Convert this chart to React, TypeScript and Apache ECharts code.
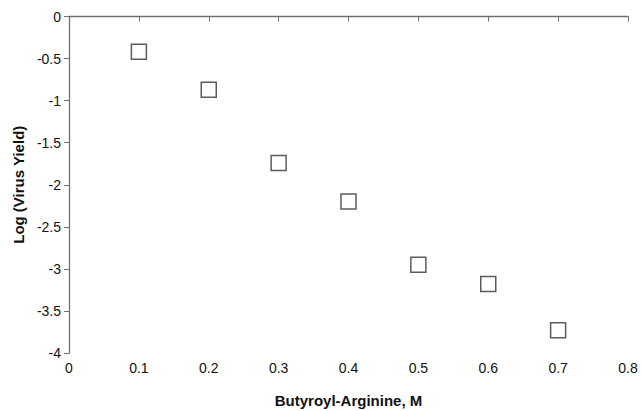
import React, { useEffect, useRef } from "react";
import * as echarts from "echarts";

const concentration = [0.1, 0.2, 0.3, 0.4, 0.5, 0.6, 0.7];
const logYield = [-0.42, -0.87, -1.74, -2.2, -2.95, -3.18, -3.73];

export default function App() {
  const ref = useRef<HTMLDivElement>(null);
  useEffect(() => {
    if (!ref.current) return;
    const chart = echarts.init(ref.current, undefined, { renderer: "svg" });
    const font = "'Liberation Sans', Arial, sans-serif";
    chart.setOption({
      animation: false,
      backgroundColor: "#fff",
      grid: { left: 69, right: 15, top: 16.5, bottom: 58, containLabel: false, outerBoundsMode: "none" },
      xAxis: {
        type: "value",
        min: 0,
        max: 0.8,
        interval: 0.1,
        name: "Butyroyl-Arginine, M",
        nameLocation: "middle",
        nameGap: 40,
        nameTextStyle: { fontFamily: font, fontWeight: "bold", fontSize: 15, color: "#111" },
        axisLine: { lineStyle: { color: "#707070", width: 1.3 } },
        axisTick: { show: true, inside: false, length: 5, lineStyle: { color: "#707070" } },
        axisLabel: { fontFamily: font, fontSize: 14, color: "#111", margin: 8, formatter: (v: number) => String(Math.round(v * 10) / 10) },
        splitLine: { show: false },
      },
      yAxis: {
        type: "value",
        min: -4,
        max: 0,
        interval: 0.5,
        name: "Log (Virus Yield)",
        nameLocation: "middle",
        nameGap: 40,
        nameTextStyle: { fontFamily: font, fontWeight: "bold", fontSize: 15, color: "#111" },
        axisLine: { show: true, lineStyle: { color: "#707070", width: 1.3 } },
        axisTick: { show: true, inside: false, length: 5, lineStyle: { color: "#707070" } },
        axisLabel: { fontFamily: font, fontSize: 14, color: "#111", margin: 8, formatter: (v: number) => String(Math.round(v * 10) / 10) },
        splitLine: { show: false },
      },
      series: [
        {
          type: "scatter",
          data: concentration.map((x, i) => [x, logYield[i]]),
          symbol: "rect",
          symbolSize: 15,
          itemStyle: { color: "#fff", borderColor: "#333", borderWidth: 1.5 },
        },
      ],
    });
    return () => chart.dispose();
  }, []);
  return <div ref={ref} style={{ width: 643, height: 411, position: "absolute", left: 0, top: 0 }} />;
}
